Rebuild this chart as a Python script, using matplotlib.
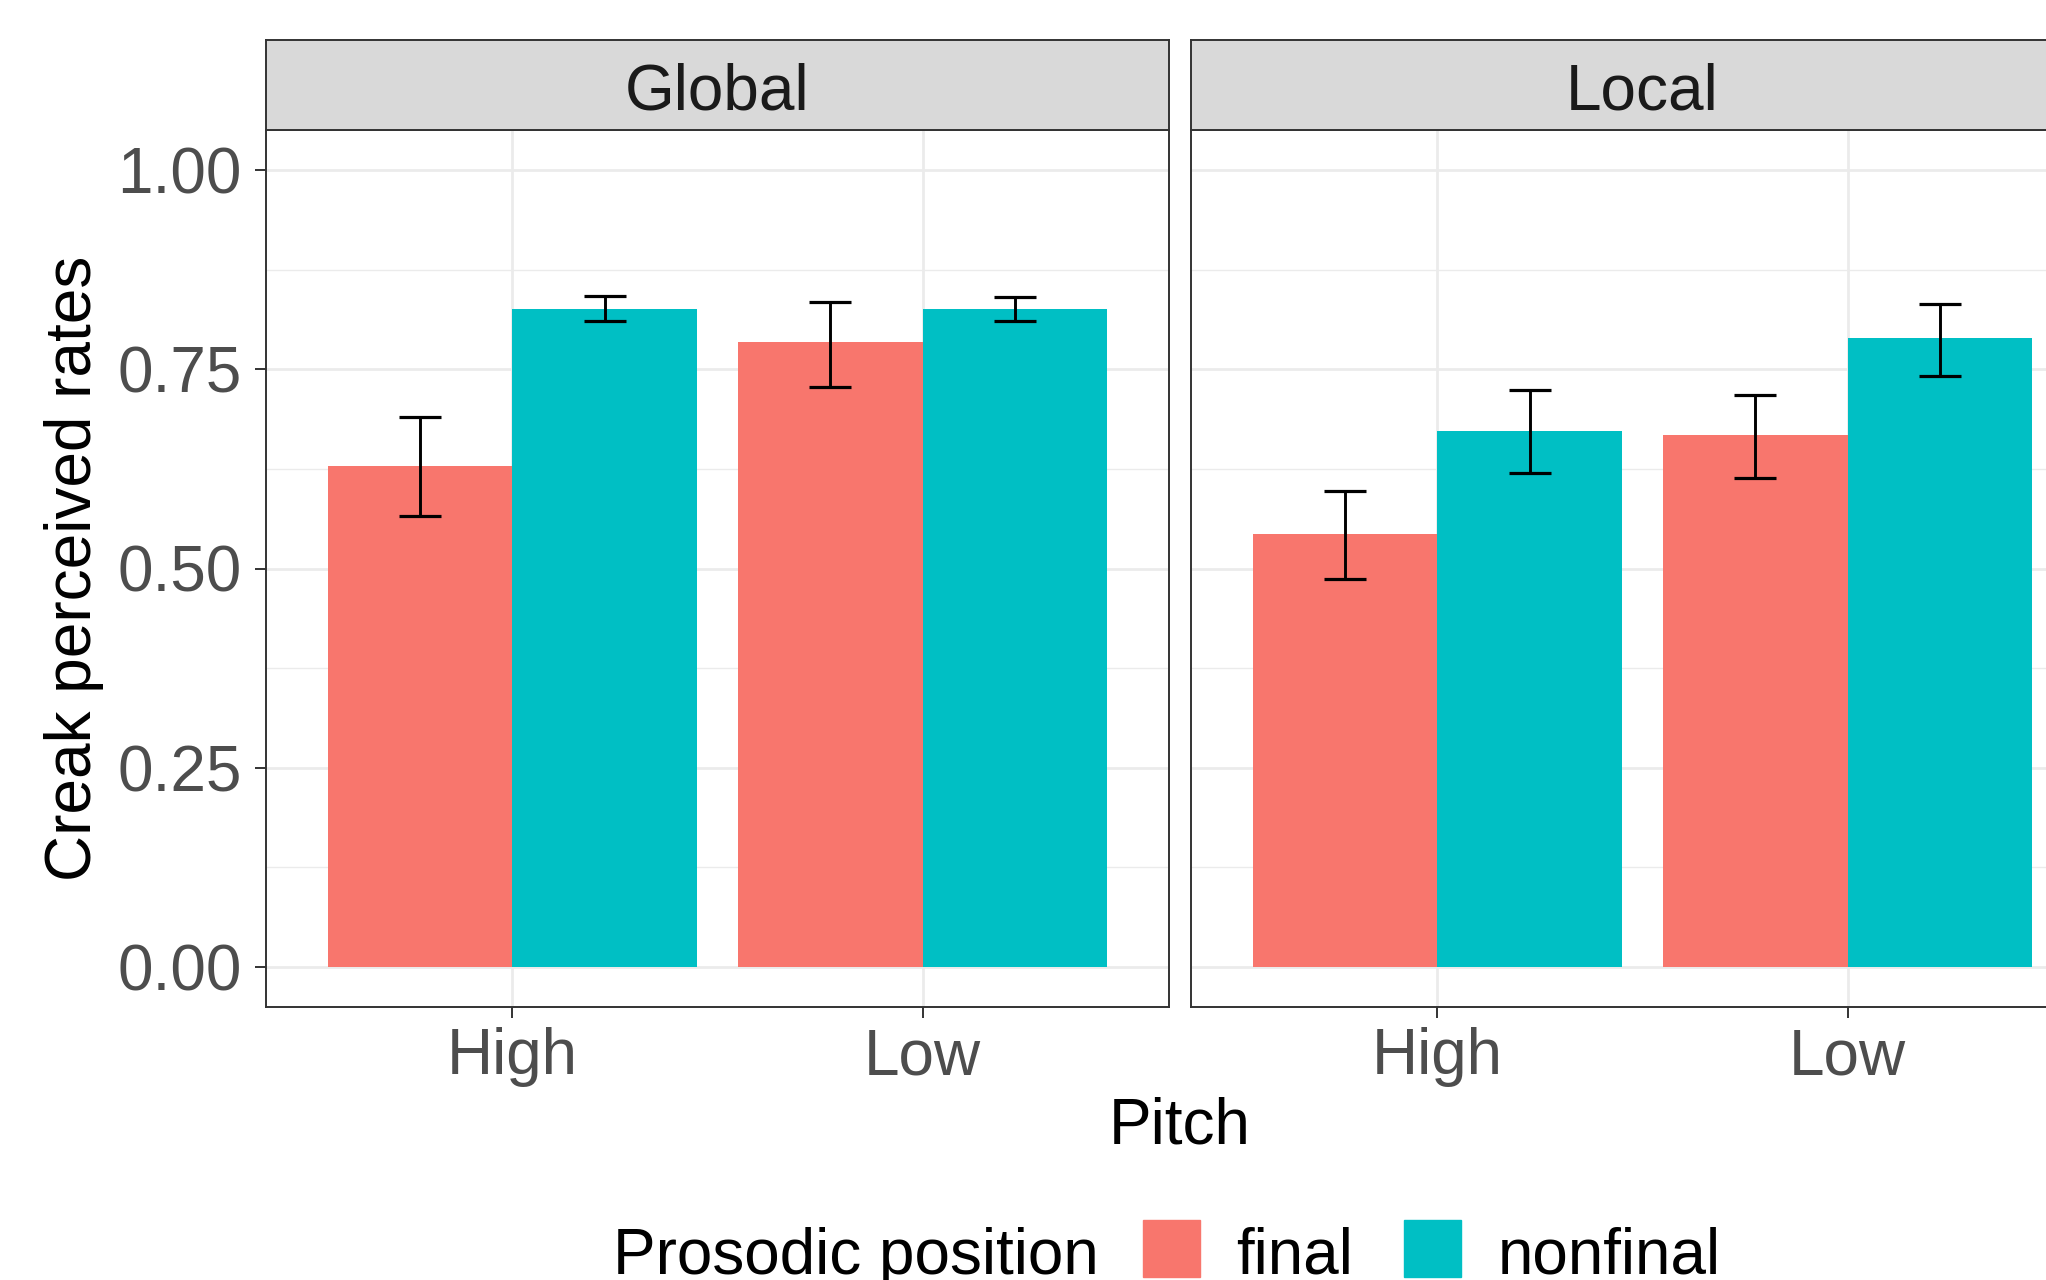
#!/usr/bin/env python3
"""Faceted bar chart of creak perceived rates by pitch and prosodic position."""
import matplotlib

matplotlib.use("Agg")
import matplotlib.pyplot as plt
from matplotlib.patches import Rectangle

# data
facets = ["Global", "Local"]
pitch = ["High", "Low"]
positions = ["final", "nonfinal"]

global_final = [0.629, 0.784]
global_final_lo = [0.566, 0.728]
global_final_hi = [0.690, 0.834]
global_nonfinal = [0.826, 0.826]
global_nonfinal_lo = [0.810, 0.810]
global_nonfinal_hi = [0.842, 0.841]

local_final = [0.543, 0.668]
local_final_lo = [0.487, 0.614]
local_final_hi = [0.597, 0.718]
local_nonfinal = [0.673, 0.789]
local_nonfinal_lo = [0.620, 0.741]
local_nonfinal_hi = [0.724, 0.832]

yticks = [0.00, 0.25, 0.50, 0.75, 1.00]

colors = {"final": "#F8766D", "nonfinal": "#00BFC4"}

plt.rcParams["font.family"] = ["Liberation Sans", "DejaVu Sans"]

W, H = 2046, 1280
fig = plt.figure(figsize=(W / 100, H / 100), dpi=100)

FS = 46
GRID = "#EBEBEB"
DARK = "#333333"


def fx(px):
    return px / W


def fy(px):
    return 1 - px / H


panel_w = 903
panel_top, panel_bot = 130, 1007
strip_top = 40
lefts = [266, 1191]

series = {
    "Global": [
        (global_final, global_final_lo, global_final_hi),
        (global_nonfinal, global_nonfinal_lo, global_nonfinal_hi),
    ],
    "Local": [
        (local_final, local_final_lo, local_final_hi),
        (local_nonfinal, local_nonfinal_lo, local_nonfinal_hi),
    ],
}

width = 0.45
for i, facet in enumerate(facets):
    ax = fig.add_axes([fx(lefts[i]), fy(panel_bot), panel_w / W,
                       (panel_bot - panel_top) / H])
    x = list(range(1, len(pitch) + 1))
    for j, pos in enumerate(positions):
        vals, lo, hi = series[facet][j]
        xs = [v + (j - 0.5) * width for v in x]
        ax.bar(xs, vals, width=width, color=colors[pos], zorder=2)
        yerr = [[v - l for v, l in zip(vals, lo)], [h - v for v, h in zip(vals, hi)]]
        ax.errorbar(xs, vals, yerr=yerr, fmt="none", ecolor="black",
                    elinewidth=2.1, capsize=15, capthick=2.3, zorder=3)
    ax.set_xlim(0.4, 2.6)
    ax.set_ylim(-0.05, 1.05)
    ax.set_xticks(x)
    ax.set_xticklabels(pitch)
    ax.set_yticks(yticks)
    ax.set_yticks([0.125, 0.375, 0.625, 0.875], minor=True)
    ax.grid(True, which="major", color=GRID, linewidth=1.95, zorder=0)
    ax.grid(True, which="minor", axis="y", color=GRID, linewidth=1.0, zorder=0)
    ax.set_axisbelow(True)
    ax.tick_params(axis="x", which="major", length=8, width=1.4, color=DARK,
                   pad=6.5, labelsize=FS, labelcolor="#4D4D4D")
    ax.tick_params(axis="x", which="minor", length=0)
    ax.tick_params(axis="y", which="minor", length=0)
    if i == 0:
        ax.set_yticklabels([f"{t:.2f}" for t in yticks])
        ax.tick_params(axis="y", which="major", length=8, width=1.4, color=DARK,
                       pad=9.4, labelsize=FS, labelcolor="#4D4D4D")
    else:
        ax.tick_params(axis="y", which="major", length=0, labelleft=False)
    for s in ax.spines.values():
        s.set_color(DARK)
        s.set_linewidth(1.4)

    sax = fig.add_axes([fx(lefts[i]), fy(panel_top), panel_w / W,
                        (panel_top - strip_top) / H])
    sax.set_facecolor("#D9D9D9")
    sax.set_xticks([])
    sax.set_yticks([])
    for s in sax.spines.values():
        s.set_color(DARK)
        s.set_linewidth(1.4)
    sax.text(0.5, 0.233, facet, transform=sax.transAxes, ha="center",
             va="baseline", fontsize=FS, color="#1A1A1A")

# axis titles
fig.text(fx(1180), fy(1143), "Pitch", ha="center", va="baseline", fontsize=FS)
fig.text(fx(74), fy(568), "Creak perceived rates", ha="center", va="center",
         rotation=90, fontsize=FS)

# legend (bottom, partly cut off like the reference)
base = fy(1274)
fig.text(fx(613), base, "Prosodic position", ha="left", va="baseline", fontsize=FS)
key_x = [1143, 1404]
lab_x = [1236, 1498]
for k, pos in enumerate(positions):
    fig.patches.append(Rectangle((fx(key_x[k]), fy(1277)), 57 / W, 57 / H,
                                 transform=fig.transFigure, color=colors[pos]))
    fig.text(fx(lab_x[k]), base, pos, ha="left", va="baseline", fontsize=FS)

fig.savefig("out.png", dpi=100)
print("Wrote out.png")
